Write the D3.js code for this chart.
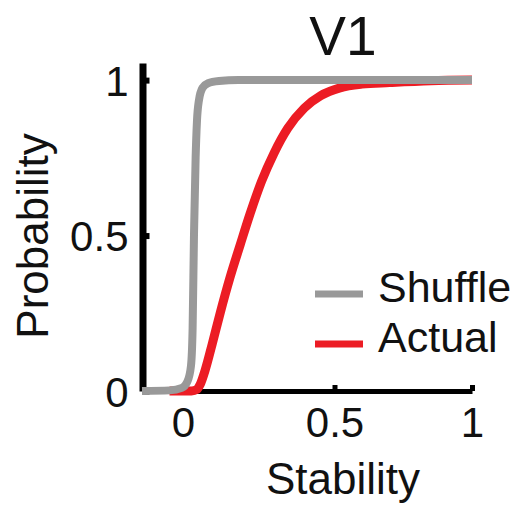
<!DOCTYPE html>
<html>
<head>
<meta charset="utf-8">
<script src="https://cdn.jsdelivr.net/npm/d3@7"></script>
<style>
  html, body { margin: 0; padding: 0; background: #fff; }
  text { font-family: "Liberation Sans", Arial, sans-serif; fill: #111; }
</style>
</head>
<body>
<svg id="chart" width="523" height="505"></svg>
<script>
// cumulative distributions
const shuffleX = [-0.2, -0.1, -0.055, -0.035, -0.022, -0.016, -0.011, -0.005, 0, 0.007, 0.02, 0.04, 0.08, 0.15, 1];
const shuffleY = [0, 0.002, 0.01, 0.03, 0.08, 0.2, 0.5, 0.75, 0.87, 0.935, 0.975, 0.99, 0.997, 1, 1];

const actualX = [-0.1, -0.02, 0, 0.011, 0.03, 0.055, 0.084, 0.12, 0.157, 0.193, 0.235, 0.28, 0.33, 0.39, 0.45, 0.52, 0.6, 0.7, 0.85, 1];
const actualY = [0, 0, 0.005, 0.02, 0.068, 0.15, 0.25, 0.365, 0.47, 0.57, 0.675, 0.765, 0.845, 0.91, 0.95, 0.975, 0.987, 0.992, 0.998, 1];

const xTicks = [0, 0.5, 1];
const yTicks = [0, 0.5, 1];
const seriesNames = ["Shuffle", "Actual"];
const seriesColors = ["#999999", "#ec1c24"];

const width = 523;
const height = 505;
const marginLeft = 142;
const marginRight = 51;
const marginTop = 63;
const marginBottom = 114;

const svg = d3.select("#chart");

const x = d3.scaleLinear()
  .domain([-0.2, 1])
  .range([marginLeft, width - marginRight]);

const y = d3.scaleLinear()
  .domain([0, 1.055])
  .range([height - marginBottom, marginTop]);

// axes
const xAxis = svg.append("g")
  .attr("transform", `translate(0,${height - marginBottom})`)
  .call(d3.axisBottom(x).tickValues(xTicks).tickFormat(d3.format("")).tickSize(-6).tickSizeOuter(0).tickPadding(16));
xAxis.select(".domain").attr("stroke", "#000").attr("stroke-width", 5);
xAxis.selectAll(".tick line").attr("stroke", "#000").attr("stroke-width", 5);
xAxis.selectAll(".tick text")
  .style("font-size", "42px")
  .filter((d) => d === 0)
  .attr("dx", "-14px");

const yAxis = svg.append("g")
  .attr("transform", `translate(${marginLeft + 0.5},0)`)
  .call(d3.axisLeft(y).tickValues(yTicks).tickFormat(d3.format("")).tickSize(-7).tickSizeOuter(0).tickPadding(14));
yAxis.select(".domain").attr("stroke", "#000").attr("stroke-width", 7);
yAxis.selectAll(".tick line").attr("stroke", "#000").attr("stroke-width", 6);
yAxis.selectAll(".tick text")
  .style("font-size", "42px")
  .attr("dy", "0.36em");

svg.selectAll(".tick text").attr("font-family", null).style("fill", "#111");

// curves, red under grey
const line = d3.line()
  .x((d) => x(d[0]))
  .y((d) => y(d[1]))
  .curve(d3.curveMonotoneX);

const actual = actualX.map((v, i) => [v, actualY[i]]);
const shuffle = shuffleX.map((v, i) => [v, shuffleY[i]]);

svg.append("path")
  .datum(actual)
  .attr("fill", "none")
  .attr("stroke", seriesColors[1])
  .attr("stroke-width", 9)
  .attr("stroke-linejoin", "round")
  .attr("d", line);

svg.append("path")
  .datum(shuffle)
  .attr("fill", "none")
  .attr("stroke", seriesColors[0])
  .attr("stroke-width", 8)
  .attr("stroke-linejoin", "round")
  .attr("d", line);

// labels
svg.append("text")
  .attr("x", 343)
  .attr("y", 55)
  .attr("text-anchor", "middle")
  .style("font-size", "55px")
  .text("V1");

svg.append("text")
  .attr("x", 343)
  .attr("y", 494)
  .attr("text-anchor", "middle")
  .style("font-size", "44px")
  .text("Stability");

svg.append("text")
  .attr("transform", "translate(48,236) rotate(-90)")
  .attr("text-anchor", "middle")
  .style("font-size", "44px")
  .text("Probability");

// legend
const legend = svg.append("g").attr("transform", "translate(315,294)");

seriesNames.forEach((name, i) => {
  legend.append("line")
    .attr("x1", 0)
    .attr("x2", 48)
    .attr("y1", i * 50)
    .attr("y2", i * 50)
    .attr("stroke", seriesColors[i])
    .attr("stroke-width", 7);

  legend.append("text")
    .attr("x", 63)
    .attr("y", i * 50 + 8)
    .style("font-size", "43px")
    .text(name);
});
</script>
</body>
</html>
